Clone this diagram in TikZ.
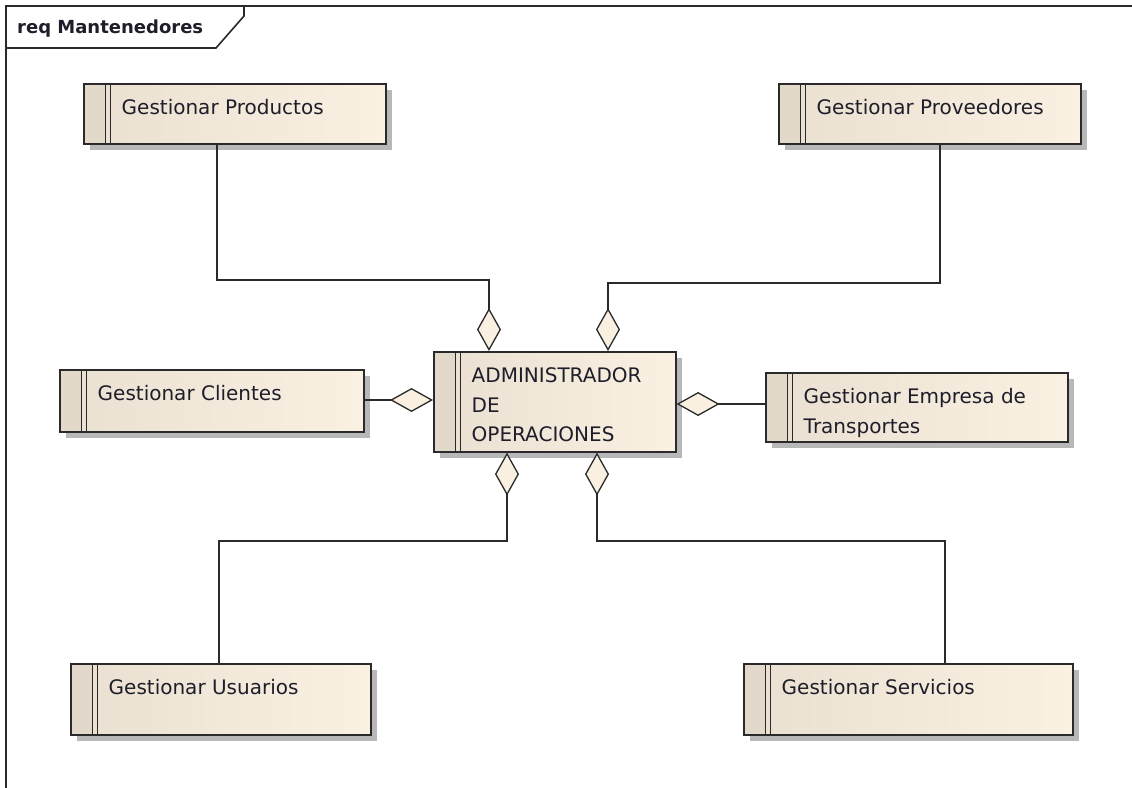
\documentclass[tikz,border=0pt]{standalone}
\usepackage{fontspec}
\setmainfont{DejaVu Sans}
\usetikzlibrary{calc,arrows.meta,shadows}

\definecolor{edgec}{HTML}{2A2A2A}
\definecolor{stripc}{HTML}{E3D9CA}
\definecolor{boxl}{HTML}{EAE0D1}
\definecolor{boxr}{HTML}{FBF1E3}
\definecolor{diamc}{HTML}{FAF0E1}
\definecolor{textc}{HTML}{1E1E2A}

\tikzset{
  reqbox/.style={draw=edgec, line width=1.6pt, inner sep=0pt, anchor=north west,
    left color=boxl, right color=boxr,
    drop shadow={shadow xshift=6pt, shadow yshift=-6pt, fill=black!28, opacity=1},
    path picture={
      \fill[stripc] (path picture bounding box.north west) rectangle
        ([xshift=22pt]path picture bounding box.south west);
      \draw[edgec, line width=1.3pt]
        ([xshift=22pt]path picture bounding box.north west) --
        ([xshift=22pt]path picture bounding box.south west);
      \draw[edgec, line width=1.3pt]
        ([xshift=27pt]path picture bounding box.north west) --
        ([xshift=27pt]path picture bounding box.south west);
    }},
  reqtext/.style={anchor=base west, inner sep=0pt, text=textc,
    font=\fontsize{20}{29.5}\selectfont},
  agg/.style={draw=edgec, line width=1.6pt,
    -{Diamond[length=43pt, width=24pt, fill=diamc, line width=1.3pt]}},
  frameline/.style={draw=edgec, line width=1.6pt}
}

% box: name, left, top, right, bottom, text (lines separated by \\)
\newcommand\reqitem[6]{%
  \node[reqbox, minimum width={#4-#2}, minimum height={#5-#3}] (#1) at (#2,#3) {};
  \node[reqtext] (#1-label) at ($(#1.north west)+(38.5,31.5)$)
    {\begin{tabular}[t]{@{}l@{}}#6\end{tabular}};
}

\begin{document}
\begin{tikzpicture}[x=1pt, y=-1pt]
  \useasboundingbox (0,0) rectangle (1132,787);

  % diagram frame with its name tab
  \draw[frameline] (1140,6) -- (6,6) -- (6,795);
  \draw[frameline] (6,48) -- (216,48) -- (244,16) -- (244,6);
  \node[anchor=base west, inner sep=0pt, text=textc,
    font=\fontsize{18}{20}\selectfont\bfseries] (title) at (17,33) {req Mantenedores};

  % requirements
  \reqitem{prod}{83}{83}{385}{143}{Gestionar Productos}
  \reqitem{prov}{778}{83}{1080}{143}{Gestionar Proveedores}
  \reqitem{cli}{59}{369}{363}{431}{Gestionar Clientes}
  \reqitem{adm}{433}{351}{675}{451}{ADMINISTRADOR\\DE\\OPERACIONES}
  \reqitem{emp}{765}{372}{1067}{441}{Gestionar Empresa de\\Transportes}
  \reqitem{usu}{70}{663}{370}{734}{Gestionar Usuarios}
  \reqitem{ser}{743}{663}{1072}{734}{Gestionar Servicios}

  % aggregations into the central requirement
  \draw[agg] (prod.south -| 217,0) |- (489,280) -- (adm.north -| 489,0);
  \draw[agg] (prov.south -| 940,0) |- (608,283) -- (adm.north -| 608,0);
  \draw[agg] (cli.east |- 0,400) -- (adm.west |- 0,400);
  \draw[agg] (emp.west |- 0,404) -- (adm.east |- 0,404);
  \draw[agg] (usu.north -| 219,0) |- (507,541) -- (adm.south -| 507,0);
  \draw[agg] (ser.north -| 945,0) |- (597,541) -- (adm.south -| 597,0);
\end{tikzpicture}
\end{document}
